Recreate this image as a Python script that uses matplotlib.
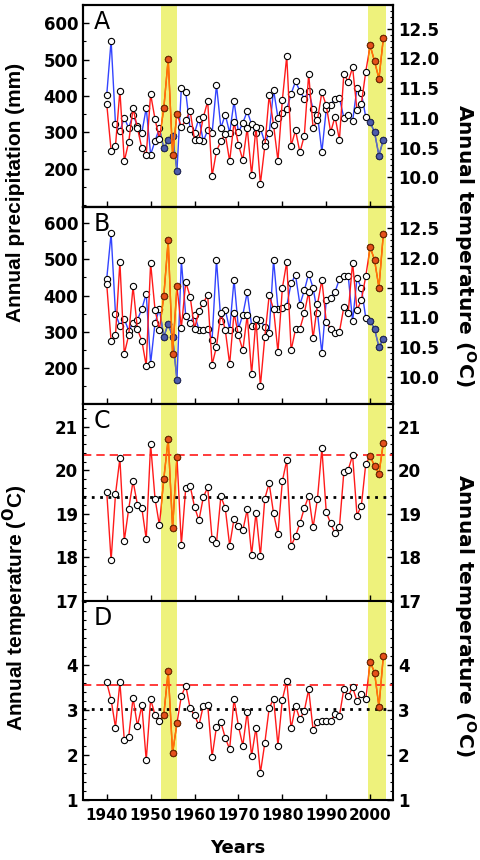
import matplotlib
matplotlib.use('Agg')
import matplotlib.pyplot as plt
from matplotlib.ticker import MultipleLocator, FormatStrFormatter

plt.rcParams['font.family'] = ['DejaVu Sans']
plt.rcParams['font.weight'] = 'bold'
plt.rcParams['mathtext.fontset'] = 'dejavusans'

years = list(range(1940, 2004))

# panel A: precipitation (mm) and temperature (oC)
precip_a = [402, 552, 322, 303, 340, 312, 349, 317, 299, 367,
            239, 276, 312, 256, 280, 290, 194, 423, 410, 310,
            299, 338, 276, 306, 297, 431, 312, 349, 299, 385,
            300, 326, 358, 322, 299, 311, 273, 297, 417, 340,
            353, 363, 406, 440, 413, 393, 413, 364, 349, 246,
            364, 376, 393, 395, 340, 349, 331, 422, 408, 342,
            328, 300, 236, 280]
temp_a = [11.24, 10.45, 10.53, 11.46, 10.27, 10.59, 11.16, 10.83, 10.49, 10.37,
          11.40, 10.98, 10.65, 11.16, 11.99, 10.38, 11.07, 10.85, 10.96, 11.12,
          10.63, 10.62, 11.01, 11.28, 10.02, 10.44, 10.61, 10.73, 10.27, 10.93,
          10.55, 10.29, 10.83, 10.04, 10.85, 9.89, 10.52, 11.38, 10.88, 10.28,
          11.30, 12.04, 10.53, 10.79, 10.42, 10.70, 11.74, 10.83, 10.97, 11.43,
          11.21, 10.76, 11.02, 10.63, 11.74, 11.61, 11.85, 11.13, 11.24, 11.78,
          12.22, 11.95, 11.66, 12.34]

# panel B: precipitation (mm) and temperature (oC)
precip_b = [446, 572, 349, 317, 335, 303, 324, 333, 363, 405,
            212, 324, 363, 286, 322, 286, 166, 497, 343, 324,
            347, 306, 306, 308, 278, 499, 329, 361, 306, 444,
            308, 347, 409, 317, 317, 333, 313, 297, 499, 364,
            366, 372, 434, 457, 375, 414, 460, 421, 352, 241,
            387, 393, 410, 446, 455, 455, 329, 448, 421, 338,
            329, 308, 257, 281]
temp_b = [11.56, 10.60, 10.70, 11.93, 10.39, 10.70, 11.52, 10.80, 10.61, 10.19,
          11.91, 11.13, 10.79, 11.36, 12.29, 10.39, 11.52, 10.83, 11.59, 11.35,
          10.81, 11.10, 11.25, 11.37, 10.21, 10.51, 11.08, 10.79, 10.22, 11.08,
          10.70, 10.45, 11.04, 10.05, 10.97, 9.85, 10.67, 11.37, 11.14, 10.42,
          11.49, 11.93, 10.45, 10.80, 10.81, 11.07, 11.43, 10.65, 11.22, 11.63,
          10.93, 10.80, 10.74, 10.76, 11.17, 11.08, 11.92, 11.12, 11.29, 11.69,
          12.18, 11.96, 11.50, 12.40]

# panel C and D: temperature (oC)
temp_c = [19.51, 17.93, 19.45, 20.27, 18.38, 19.11, 19.75, 19.21, 19.13, 18.42,
          20.60, 19.35, 18.74, 19.80, 20.72, 18.68, 20.31, 18.29, 19.60, 19.64,
          19.16, 18.85, 19.38, 19.61, 18.42, 18.33, 19.40, 19.13, 18.27, 18.89,
          18.72, 18.62, 19.10, 18.06, 19.03, 18.03, 19.35, 19.70, 19.01, 18.54,
          19.75, 20.23, 18.26, 18.49, 18.78, 19.13, 19.41, 18.69, 19.35, 20.50,
          19.04, 18.78, 18.55, 18.70, 19.95, 20.01, 20.34, 18.96, 19.19, 20.15,
          20.33, 20.09, 19.92, 20.63]
temp_d = [3.61, 3.23, 2.61, 3.61, 2.34, 2.40, 3.27, 2.64, 3.10, 1.88,
          3.24, 2.89, 2.75, 2.89, 3.87, 2.04, 2.71, 3.31, 3.54, 3.04,
          2.88, 2.66, 3.09, 3.11, 1.96, 2.63, 2.73, 2.38, 2.13, 3.25,
          2.64, 2.21, 2.96, 1.98, 2.61, 1.60, 2.26, 3.04, 3.25, 2.21,
          3.23, 3.64, 2.59, 3.09, 2.79, 2.98, 3.46, 2.56, 2.74, 2.75,
          2.75, 2.76, 2.90, 2.87, 3.46, 3.31, 3.50, 3.20, 3.36, 3.24,
          4.07, 3.83, 3.07, 4.20]

mean_c, recent_c = 19.38, 20.35
mean_d, recent_d = 3.03, 3.55

bands = [(1952.4, 1956.1), (1999.5, 2003.6)]
hot_years = [1953, 1954, 1955, 1956, 2000, 2001, 2002, 2003]

RED = '#ff1a1a'
BLUE = '#3344ff'
BAND = '#eef27c'
RED_IN = ('#ff7a00', '#e5501c', '#7a2a00')
BLUE_IN = ('#6070b4', '#4d5cab', '#252c60')


def draw_series(ax, values, color, band_cols):
    line_in, face_in, edge_in = band_cols
    ax.plot(years, values, '-', color=color, lw=1, zorder=2)
    # the part of the line inside the yellow bands is drawn in another colour
    for a, b in bands:
        clip = ax.axvspan(a, b, facecolor='none', lw=0)
        seg, = ax.plot(years, values, '-', color=line_in, lw=1, zorder=2.5)
        seg.set_clip_path(clip)
    ax.plot(years, values, 'o', ms=4.5, mfc='white', mec='black', mew=0.8,
            ls='none', zorder=3)
    hot = [v for y, v in zip(years, values) if y in hot_years]
    ax.plot(hot_years, hot, 'o', ms=4.5, mfc=face_in, mec=edge_in, mew=0.8,
            ls='none', zorder=4)


def style_axis(ax, major, minor, fmt=None):
    ax.yaxis.set_major_locator(MultipleLocator(major))
    ax.yaxis.set_minor_locator(MultipleLocator(minor))
    if fmt:
        ax.yaxis.set_major_formatter(FormatStrFormatter(fmt))
    ax.tick_params(axis='both', which='major', direction='in', length=4,
                   width=1, labelsize=12)
    ax.tick_params(axis='x', which='major', labelsize=11, pad=6)
    ax.tick_params(axis='both', which='minor', direction='in', length=2,
                   width=0.8)
    for s in ax.spines.values():
        s.set_linewidth(1.5)


fig = plt.figure(figsize=(4.8, 8.6), dpi=100)
left, width = 83 / 480, 310 / 480
tops = [5, 207, 404, 601, 800]
axes = []
for i in range(4):
    bottom = 1 - tops[i + 1] / 860
    height = (tops[i + 1] - tops[i]) / 860
    axes.append(fig.add_axes([left, bottom, width, height]))

for i, ax in enumerate(axes):
    ax.set_xlim(1934.6, 2005.2)
    ax.xaxis.set_major_locator(MultipleLocator(10))
    for a, b in bands:
        ax.axvspan(a, b, color=BAND, lw=0, zorder=0)
    if i < 3:
        ax.tick_params(labelbottom=False)
    ax.text(0.035, 0.975, 'ABCD'[i], transform=ax.transAxes, fontsize=17,
            fontweight='normal', va='top', ha='left', zorder=6)

# A and B: precipitation on the left, temperature on the right
pairs = [(precip_a, temp_a, (95, 650), (9.5, 12.9)),
         (precip_b, temp_b, (100, 645), (9.55, 12.85))]
for ax, (p, t, plim, tlim) in zip(axes[:2], pairs):
    draw_series(ax, p, BLUE, BLUE_IN)
    ax.set_ylim(*plim)
    style_axis(ax, 100, 50)
    ax.tick_params(axis='y', right=False, which='both')
    ax.set_yticks([200, 300, 400, 500, 600])
    tw = ax.twinx()
    tw.set_xlim(1934.6, 2005.2)
    draw_series(tw, t, RED, RED_IN)
    tw.set_ylim(*tlim)
    style_axis(tw, 0.5, 0.1, '%.1f')
    tw.set_yticks([10.0, 10.5, 11.0, 11.5, 12.0, 12.5])
    tw.tick_params(axis='y', left=False, which='both')

# C and D: temperature with the long-term and recent means
singles = [(axes[2], temp_c, (17, 21.52), mean_c, recent_c),
           (axes[3], temp_d, (1, 5.42), mean_d, recent_d)]
for ax, t, lim, m, r in singles:
    draw_series(ax, t, RED, RED_IN)
    ax.axhline(r, color=RED, ls=(0, (5, 3)), lw=1.2, zorder=1.5)
    ax.axhline(m, color='black', ls=(0, (1, 2)), lw=2, zorder=1.5)
    ax.set_ylim(*lim)
    style_axis(ax, 1, 0.2)
    ax.tick_params(axis='y', which='both', right=True, labelright=True)
axes[2].set_yticks([17, 18, 19, 20, 21])
axes[3].set_yticks([1, 2, 3, 4])

deg = r'($^{\mathbf{O}}$C)'
fig.text(0.032, 1 - 192 / 860, 'Annual precipitation (mm)', rotation=90,
         ha='center', va='center', fontsize=15,
         family=['Liberation Sans Narrow', 'Liberation Sans'])
fig.text(0.032, 1 - 608 / 860, 'Annual temperature ' + deg, rotation=90,
         ha='center', va='center', fontsize=15,
         family=['Liberation Sans Narrow', 'Liberation Sans'])
fig.text(0.968, 1 - 245 / 860, 'Annual temperature ' + deg, rotation=270,
         ha='center', va='center', fontsize=14.5)
fig.text(0.968, 1 - 615 / 860, 'Annual temperature ' + deg, rotation=270,
         ha='center', va='center', fontsize=14.5)
fig.text(left + width / 2, 1 - 848 / 860, 'Years', ha='center',
         va='center', fontsize=13)

fig.savefig('out.png', dpi=100)
